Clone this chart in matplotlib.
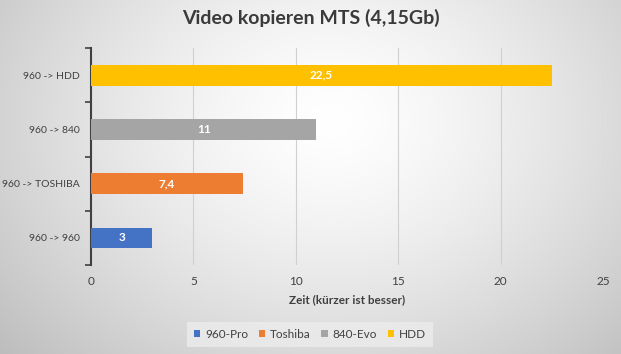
import numpy as np
import matplotlib.pyplot as plt

categories = ["960 -> 960", "960 -> TOSHIBA", "960 -> 840", "960 -> HDD"]
series = ["960-Pro", "Toshiba", "840-Evo", "HDD"]
values = [3, 7.4, 11, 22.5]
value_labels = ["3", "7,4", "11", "22,5"]
colors = ["#4472C4", "#ED7D31", "#A5A5A5", "#FFC000"]
xticks = [0, 5, 10, 15, 20, 25]

plt.rcParams['font.family'] = ['Lato', 'DejaVu Sans']

fig = plt.figure(figsize=(6.21, 3.54), dpi=100)

# radial gray background
bg = fig.add_axes([0, 0, 1, 1], zorder=-10)
yy, xx = np.mgrid[0:354, 0:621]
r = np.sqrt(((xx - 330) / 420.0) ** 2 + ((yy - 120) / 330.0) ** 2)
shade = 1.0 - 0.24 * np.clip(r, 0, 1.2) ** 1.4
bg.imshow(np.dstack([shade] * 3), aspect='auto', extent=[0, 1, 0, 1])
bg.axis('off')

ax = fig.add_axes([0.1465, 0.2514, 0.8245, 0.6126])
ax.patch.set_alpha(0)

y = np.arange(len(categories))
for i in range(len(categories)):
    ax.barh(y[i], values[i], height=0.38, color=colors[i], label=series[i], zorder=3)
    ax.text(values[i] / 2, y[i], value_labels[i], color='white', fontweight='bold',
            ha='center', va='center', fontsize=8.5, zorder=4)

ax.set_xlim(0, 25)
ax.set_ylim(-0.5, 3.5)
ax.set_xticks(xticks)
ax.set_yticks(y)
ax.set_yticklabels(categories)
ax.set_yticks(np.arange(-0.5, 3.6, 1), minor=True)
ax.tick_params(axis='y', which='major', length=0, pad=8, labelsize=7.5, labelcolor='#404040')
ax.tick_params(axis='y', which='minor', length=4, color='#404040', width=1.2)
ax.tick_params(axis='x', length=0, pad=8, labelsize=8.5, labelcolor='#404040')
ax.xaxis.grid(True, color='#d0d0d0', linewidth=0.8, zorder=0)

for s in ['top', 'right', 'bottom']:
    ax.spines[s].set_visible(False)
ax.spines['left'].set_color('#404040')
ax.spines['left'].set_linewidth(1.5)

ax.set_xlabel("Zeit (kürzer ist besser)", fontsize=8.5, fontweight='bold', color='#404040', labelpad=5)
fig.suptitle("Video kopieren MTS (4,15Gb)", fontsize=14, fontweight='bold', color='#3a3a3a', y=0.975)

leg = fig.legend(loc='center', bbox_to_anchor=(0.499, 0.055), ncol=4, frameon=True,
                 fontsize=8.5, handlelength=0.55, handleheight=0.55, handletextpad=0.4,
                 columnspacing=0.9, borderpad=0.6)
leg.get_frame().set_facecolor('#ececec')
leg.get_frame().set_edgecolor('none')
leg.get_frame().set_alpha(0.8)
leg.get_frame().set_boxstyle('square', pad=0)
for t in leg.get_texts():
    t.set_color('#404040')

fig.savefig("out.png", dpi=100)
